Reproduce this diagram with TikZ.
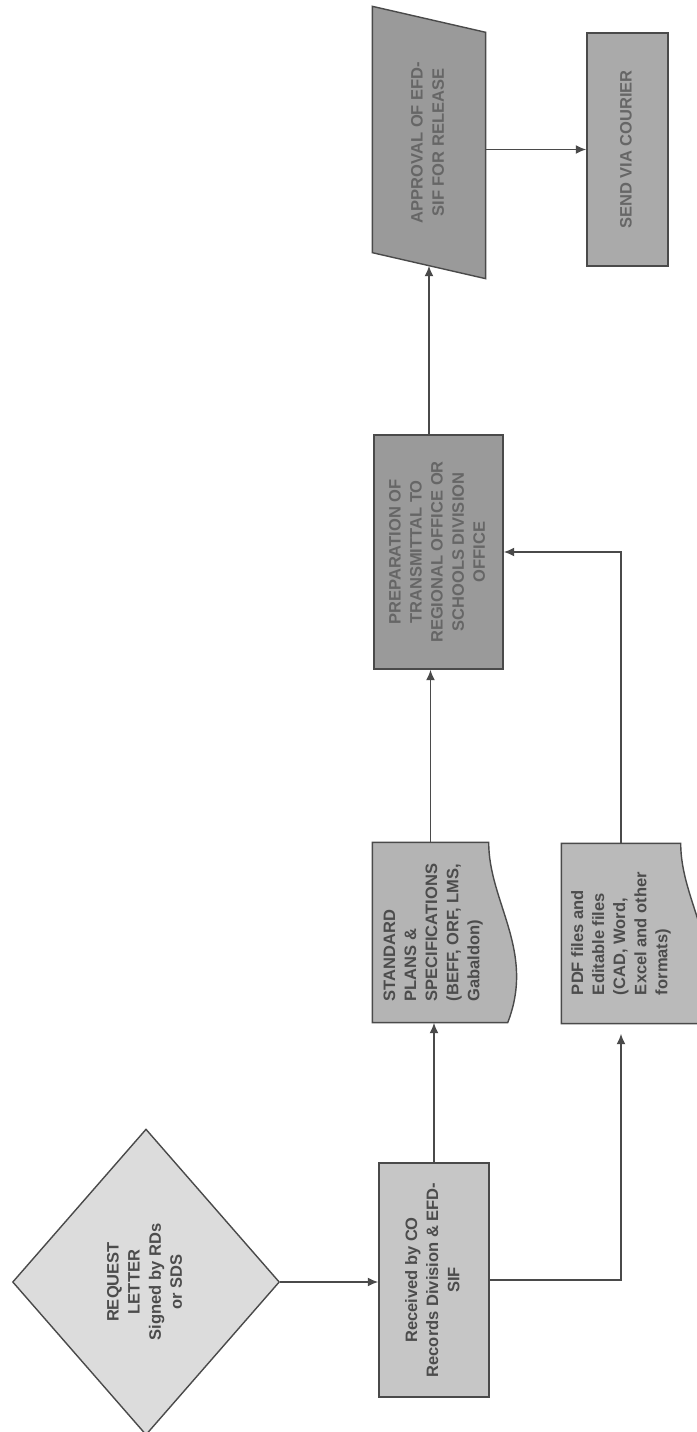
\documentclass[tikz,border=0pt]{standalone}
\usepackage{fontspec}
\setmainfont{Liberation Sans}
\usepackage{tikz}
\usetikzlibrary{arrows.meta,shapes.geometric,backgrounds,calc}
\definecolor{linegray}{HTML}{4A4A4A}
\definecolor{textdark}{HTML}{4C4C4C}
\definecolor{textmid}{HTML}{666666}
\definecolor{lightfill}{HTML}{DCDCDC}
\definecolor{recvfill}{HTML}{C6C6C6}
\definecolor{docfill}{HTML}{B4B4B4}
\definecolor{darkfill}{HTML}{9A9A9A}
\definecolor{sendfill}{HTML}{AAAAAA}
\tikzset{
  box/.style={
    rectangle,
    draw=linegray, line width=0.8pt,
    inner sep=0pt,
    text=textdark,
    font=\fontsize{9.4}{12}\selectfont\bfseries,
  },
  decision/.style={
    diamond,
    draw=linegray, line width=0.8pt,
    fill=lightfill,
    inner sep=0pt,
    text=textdark,
    font=\fontsize{9.4}{12}\selectfont\bfseries,
  },
  outline/.style={draw=linegray, line width=0.8pt},
  flow/.style={draw=linegray, line width=1pt, -{Latex[length=2.1mm,width=1.8mm]}},
}
\newcommand{\vtext}[2][c]{\rotatebox{90}{\begin{tabular}{@{}#1@{}}#2\end{tabular}}}

\begin{document}
\begin{tikzpicture}[x=0.02cm,y=-0.02cm]
  \useasboundingbox (0,0) rectangle (696,1432);

  \node[decision, minimum width=5.34cm, minimum height=6.12cm] (RL) at (146,1282)
    {\vtext{REQUEST\\LETTER\\Signed by RDs\\or SDS}\hspace{0.68cm}};
  \node[box, fill=recvfill, minimum width=2.2cm, minimum height=4.68cm] (RC) at (434,1280)
    {\vtext{Received by CO\\Records Division \& EFD-\\SIF}};
  \node[box, draw=none, minimum width=2.3cm, minimum height=3.58cm] (SP) at (430.5,932.5)
    {\hspace{0.1cm}\vtext[l]{STANDARD\\PLANS \&\\SPECIFICATIONS\\(BEFF, ORF, LMS,\\Gabaldon)}};
  \node[box, draw=none, minimum width=2.36cm, minimum height=3.58cm] (PF) at (621,933.5)
    {\vtext[l]{PDF files and\\Editable files\\(CAD, Word,\\Excel and other\\formats)}};
  \node[box, fill=darkfill, text=textmid, minimum width=2.58cm, minimum height=4.68cm] (PT) at (438.5,552)
    {\vtext{PREPARATION OF\\TRANSMITTAL TO\\REGIONAL OFFICE OR\\SCHOOLS DIVISION\\OFFICE}};
  \node[box, draw=none, text=textmid, minimum width=2.24cm, minimum height=4.9cm] (AP) at (429,142.5)
    {\vtext{APPROVAL OF EFD-\\SIF FOR RELEASE}\hspace{0.28cm}};
  \node[box, fill=sendfill, text=textmid, minimum width=1.62cm, minimum height=4.66cm] (SC) at (627.5,149.5)
    {\vtext{SEND VIA COURIER}};

  \begin{scope}[on background layer]
    \draw[outline, fill=docfill] (SP.south west) -- (SP.north west) -- (SP.north east)
      .. controls +(0,60) and +(28,-72) .. ($(SP.south east)+(19,0)$) -- cycle;
    \draw[outline, fill=docfill!92!white] (PF.south west) -- (PF.north west) -- (PF.north east)
      .. controls +(0,60) and +(28,-72) .. ($(PF.south east)+(19,0)$) -- cycle;
    \draw[outline, fill=darkfill] ($(AP.north west)+(0,-13)$) -- ($(AP.north east)+(0,13)$)
      -- ($(AP.south east)+(0,13)$) -- ($(AP.south west)+(0,-13)$) -- cycle;
  \end{scope}

  \draw[flow] (RL.east) -- (RL.east -| RC.west);
  \draw[flow] (RC.north) -- (RC.north |- SP.south);
  \draw[flow, shorten >=0.2cm] (RC.east) -- (RC.east -| PF.south) -- (PF.south);
  \draw[flow] (SP.north) -- (SP.north |- PT.south);
  \draw[flow] (PF.north) -- (PF.north |- PT.east) -- (PT.east);
  \draw[flow] (AP.south |- PT.north) -- (AP.south);
  \draw[flow] (AP.east |- SC.west) -- (SC.west);
\end{tikzpicture}
\end{document}
